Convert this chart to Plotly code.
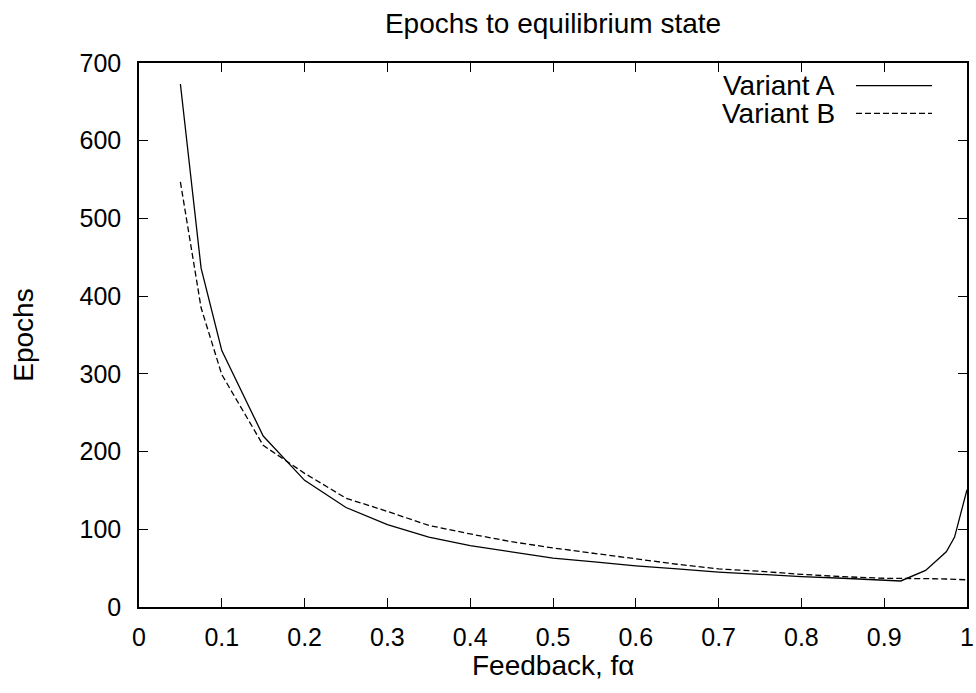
import plotly.graph_objects as go

feedback = [0.05, 0.075, 0.1, 0.15, 0.2, 0.25, 0.3, 0.35, 0.4, 0.45, 0.5, 0.55,
            0.6, 0.65, 0.7, 0.75, 0.8, 0.85, 0.9, 0.92, 0.95, 0.975, 0.985, 1.0]
variant_a = [673, 436, 330, 220, 163, 128, 106, 90, 79, 71, 63, 58,
             53, 49, 45, 42, 39, 37, 35, 33.5, 47, 71, 90, 151]
variant_b = [547, 385, 299, 208, 172, 140, 123, 105, 94, 84, 76, 69,
             62, 55, 49, 46, 42, 39, 37, 37, 36.5, 36, 35.5, 35]
x_ticks = [0, 0.1, 0.2, 0.3, 0.4, 0.5, 0.6, 0.7, 0.8, 0.9, 1.0]
x_tick_labels = ["0", "0.1", "0.2", "0.3", "0.4", "0.5", "0.6", "0.7", "0.8", "0.9", "1"]
y_ticks = [0, 100, 200, 300, 400, 500, 600, 700]
series_names = ["Variant A", "Variant B"]
x_title = "Feedback, fα"
y_title = "Epochs"
chart_title = "Epochs to equilibrium state"

FONT = "Liberation Sans, Arial, Helvetica, sans-serif"

fig = go.Figure()
fig.add_trace(go.Scatter(x=feedback, y=variant_a, mode="lines", name=series_names[0],
                         line=dict(color="black", width=1.3), showlegend=False))
fig.add_trace(go.Scatter(x=feedback, y=variant_b, mode="lines", name=series_names[1],
                         line=dict(color="black", width=1.3, dash="6px,3px"), showlegend=False))

L, R, T, B = 139, 9, 63, 86
W, H = 976, 693
pw, ph = W - L - R, H - T - B

def px_x(px):
    return (px - L) / pw

def px_y(py):
    return (H - B - py) / ph

# gnuplot-style key: text right-aligned, line sample to the right
key_rows = [(series_names[0], 85.7, "solid"), (series_names[1], 113.3, "6px,3px")]
for name, ypix, dash in key_rows:
    fig.add_annotation(x=px_x(837), y=px_y(ypix), xref="paper", yref="paper",
                       text=name, showarrow=False, xanchor="right", yanchor="middle",
                       font=dict(family=FONT, size=28, color="black"))
    fig.add_shape(type="line", xref="paper", yref="paper",
                  x0=px_x(856), x1=px_x(932), y0=px_y(ypix), y1=px_y(ypix),
                  line=dict(color="black", width=1.3, dash=dash))

# x-axis title (placed as annotation to match gnuplot spacing)
fig.add_annotation(x=px_x(553), y=px_y(665), xref="paper", yref="paper",
                   text=x_title, showarrow=False, xanchor="center", yanchor="middle",
                   font=dict(family=FONT, size=28, color="black"))

fig.update_layout(
    width=W, height=H,
    margin=dict(l=L, r=R, t=T, b=B, autoexpand=False),
    paper_bgcolor="white", plot_bgcolor="white",
    font=dict(family=FONT, size=25, color="black"),
    title=dict(text=chart_title, x=px_x(553), xref="paper", xanchor="center",
               y=1 - 23 / H, yref="container", yanchor="middle",
               font=dict(family=FONT, size=28, color="black")),
    xaxis=dict(range=[0, 1], tickvals=x_ticks, ticktext=x_tick_labels, automargin=False,
               ticks="inside", ticklen=9, tickwidth=1.2, tickcolor="black",
               showline=True, linecolor="black", linewidth=1.5, mirror="ticks",
               showgrid=False, zeroline=False, ticklabelstandoff=7,
               tickfont=dict(family=FONT, size=25, color="black")),
    yaxis=dict(range=[0, 700], tickvals=y_ticks, automargin=False,
               ticks="inside", ticklen=9, tickwidth=1.2, tickcolor="black",
               showline=True, linecolor="black", linewidth=1.5, mirror="ticks",
               showgrid=False, zeroline=False, ticklabelstandoff=11,
               tickfont=dict(family=FONT, size=25, color="black"),
               title=dict(text=y_title, standoff=38,
                          font=dict(family=FONT, size=28, color="black"))),
)

fig.write_html("out.html", config={"displayModeBar": False},
               post_script="document.body.style.margin='0';")
